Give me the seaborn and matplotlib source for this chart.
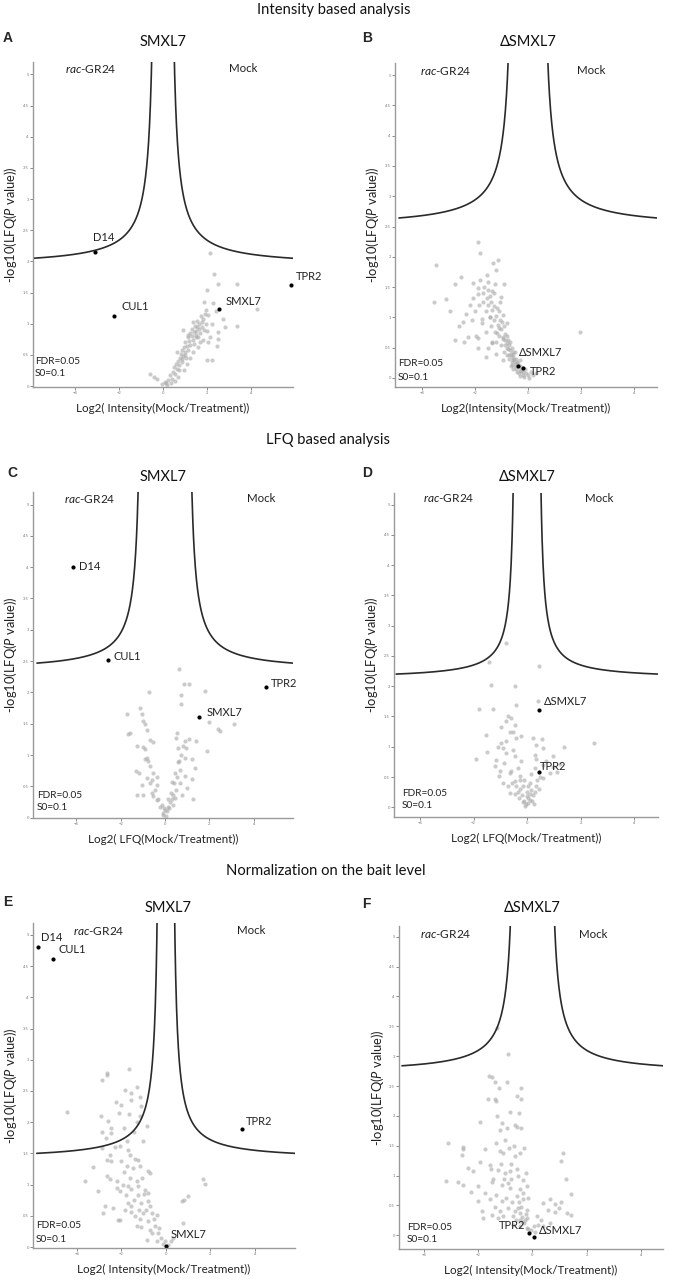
import numpy as np
import matplotlib
matplotlib.use('Agg')
import matplotlib.pyplot as plt
import seaborn as sns
from matplotlib.ticker import FuncFormatter

W, H = 675, 1280

# grey proteins (log2 ratio, -log10 p)
a_grey = [(2.14, 2.14), (2.32, 1.79), (2.50, 1.63), (3.35, 1.63), (1.98, 1.54), (1.86, 1.35), (2.26, 1.33),
          (4.29, 1.24), (1.95, 1.22), (2.06, 1.14), (2.74, 1.07), (3.35, 0.97), (2.80, 0.95), (1.76, 1.03),
          (1.53, 0.95), (0.92, 0.90), (2.48, 0.87), (2.48, 0.75), (2.47, 0.64), (2.14, 0.79), (1.83, 0.74),
          (1.98, 0.41), (2.21, 0.41), (0.85, 0.44), (0.62, 0.55), (-0.59, 0.20), (-0.29, 0.12), (0.09, 0.07),
          (-0.06, 0.03), (-0.40, 0.15), (0.15, 0.05), (0.25, 0.10), (0.30, 0.18), (0.40, 0.12), (0.45, 0.22),
          (0.50, 0.30), (0.55, 0.20), (0.60, 0.35), (0.65, 0.28), (0.70, 0.40), (0.75, 0.33), (0.78, 0.45),
          (0.80, 0.52), (0.85, 0.38), (0.88, 0.58), (0.90, 0.48), (0.95, 0.62), (1.00, 0.55), (1.02, 0.70),
          (1.05, 0.45), (1.10, 0.65), (1.12, 0.78), (1.15, 0.58), (1.20, 0.72), (1.22, 0.85), (1.25, 0.66),
          (1.30, 0.80), (1.32, 0.92), (1.35, 0.74), (1.40, 0.86), (1.42, 0.68), (1.45, 0.96), (1.50, 0.82),
          (1.52, 0.88), (1.55, 1.05), (1.60, 0.78), (1.62, 0.92), (1.65, 1.00), (1.70, 0.85), (1.72, 1.12),
          (1.78, 0.95), (1.80, 1.08), (1.85, 0.90), (1.90, 1.15), (1.95, 1.00), (2.00, 0.88), (2.05, 0.70),
          (1.35, 0.55), (1.10, 0.35), (0.95, 0.25), (0.70, 0.15), (1.60, 0.62), (1.25, 0.45), (2.25, 1.00),
          (2.40, 1.20), (0.35, 0.05), (0.55, 0.08), (1.15, 0.82), (1.48, 0.78), (0.98, 0.50), (1.68, 0.70),
          (1.38, 1.02), (0.72, 0.25), (0.20, 0.02)]

b_grey = [(-1.87, 2.24), (-1.83, 2.07), (-3.48, 1.87), (-1.31, 1.89), (-1.12, 1.95), (-1.21, 1.79), (-2.54, 1.67),
          (-2.75, 1.55), (-2.06, 1.56), (-1.56, 1.70), (-1.50, 1.58), (-0.90, 1.55), (-1.87, 1.48), (-1.68, 1.40),
          (-1.37, 1.43), (-3.09, 1.30), (-3.53, 1.26), (-2.06, 1.32), (-1.00, 1.34), (-1.50, 1.21), (-1.18, 1.15),
          (-2.94, 1.10), (-2.44, 0.93), (-2.59, 0.85), (-1.75, 0.98), (-1.43, 1.01), (-0.93, 1.04), (-0.78, 0.90),
          (-2.25, 0.68), (-2.75, 0.63), (-1.87, 0.66), (-1.87, 0.49), (-1.37, 0.57), (-1.18, 0.74), (-0.93, 0.68),
          (-0.80, 0.57), (1.96, 0.75), (-0.68, 0.46), (-0.55, 0.38), (-0.62, 0.27), (-0.43, 0.27), (-0.50, 0.19),
          (-0.30, 0.13), (-0.06, 0.08), (0.20, 0.05), (-0.30, 0.03), (-1.90, 1.38), (-1.80, 1.62), (-1.70, 1.25),
          (-1.65, 1.50), (-1.60, 1.10), (-1.55, 1.32), (-1.50, 1.45), (-1.45, 1.00), (-1.40, 1.25), (-1.40, 0.85),
          (-1.35, 1.12), (-1.30, 0.95), (-1.30, 1.40), (-1.25, 0.75), (-1.20, 1.02), (-1.20, 0.60), (-1.15, 0.88),
          (-1.10, 1.10), (-1.10, 0.70), (-1.05, 0.95), (-1.00, 0.80), (-1.00, 0.55), (-0.95, 0.65), (-0.90, 0.85),
          (-0.90, 0.42), (-0.85, 0.72), (-0.85, 0.55), (-0.80, 0.38), (-0.75, 0.62), (-0.75, 0.48), (-0.70, 0.32),
          (-0.70, 0.55), (-0.65, 0.40), (-0.60, 0.50), (-0.60, 0.22), (-0.55, 0.30), (-0.50, 0.42), (-0.50, 0.25),
          (-0.45, 0.15), (-0.45, 0.32), (-0.40, 0.10), (-0.35, 0.22), (-0.30, 0.30), (-0.25, 0.12), (-0.20, 0.05),
          (-0.10, 0.15), (0.00, 0.05), (0.10, 0.10), (0.30, 0.08), (-1.60, 0.75), (-1.75, 0.90), (-2.00, 1.10),
          (-2.20, 1.20), (-1.95, 0.70), (-2.10, 0.95), (-1.35, 0.60), (-1.50, 0.50), (-1.20, 0.40), (-2.35, 1.05),
          (-1.85, 1.20), (-1.05, 1.25), (-1.25, 1.55), (-2.40, 0.60), (-1.60, 0.35), (-0.65, 0.20), (-0.55, 0.15),
          (-0.35, 0.08), (-0.15, 0.02), (0.05, 0.00), (-0.40, 0.20), (-0.80, 0.50), (-0.95, 0.30),
          (-0.72, 0.38), (-0.62, 0.35), (-0.52, 0.32), (-0.42, 0.25), (-0.28, 0.18), (-0.18, 0.10), (-0.58, 0.42),
          (-0.88, 0.62), (-0.78, 0.70), (-0.68, 0.60), (-1.08, 0.82), (-0.98, 0.92), (-1.28, 1.18), (-1.45, 1.35)]

c_grey = [(0.65, 2.37), (0.85, 2.13), (1.10, 2.14), (-0.70, 2.00), (0.74, 1.96), (1.80, 2.02), (0.71, 1.81),
          (-1.13, 1.75), (-1.05, 1.66), (-1.70, 1.65), (-0.98, 1.55), (-0.90, 1.49), (-0.83, 1.40), (-1.58, 1.35),
          (1.99, 1.52), (2.40, 1.41), (2.48, 1.38), (3.10, 1.49), (0.55, 1.36), (0.50, 1.28), (1.08, 1.26),
          (0.90, 1.23), (1.40, 1.22), (-0.68, 1.24), (-0.53, 1.21), (-1.28, 1.14), (-0.98, 1.13), (0.60, 1.12),
          (0.96, 1.12), (1.91, 1.06), (0.71, 1.00), (0.90, 0.95), (1.20, 0.93), (-0.90, 0.93), (-0.79, 0.96),
          (-0.68, 0.82), (0.60, 0.89), (0.68, 0.76), (1.35, 0.79), (-1.31, 0.74), (-1.16, 0.71), (-0.54, 0.71),
          (0.45, 0.71), (0.90, 0.67), (-0.83, 0.63), (-0.38, 0.65), (1.20, 0.61), (-1.05, 0.52), (-0.68, 0.55),
          (-0.38, 0.52), (0.30, 0.57), (0.68, 0.55), (1.00, 0.48), (-1.28, 0.36), (-0.98, 0.36), (-0.60, 0.39),
          (-0.53, 0.34), (-0.38, 0.28), (0.38, 0.36), (0.45, 0.31), (0.75, 0.36), (1.25, 0.30), (-0.23, 0.17),
          (0.00, 0.12), (-0.08, 0.04), (0.15, 0.17), (0.22, 0.25), (-1.65, 1.33), (-0.10, 0.08), (0.10, 0.10),
          (-0.15, 0.20), (0.20, 0.15), (0.30, 0.30), (-0.30, 0.30), (0.35, 0.20), (-0.45, 0.45), (0.50, 0.45),
          (0.25, 0.40), (0.40, 0.55), (-0.60, 0.60), (0.55, 0.65), (-0.75, 0.90), (0.65, 0.90), (-0.90, 1.10),
          (0.80, 1.15), (0.05, 0.02), (-0.05, 0.15), (0.15, 0.30)]

d_grey = [(-0.80, 2.71), (-1.42, 2.40), (0.45, 2.34), (-1.34, 2.02), (-0.44, 2.01), (0.41, 1.76), (-1.79, 1.62),
          (-1.27, 1.62), (-0.40, 1.69), (-0.71, 1.51), (-0.59, 1.47), (-0.78, 1.42), (-0.46, 1.36), (-0.96, 1.33),
          (-1.52, 1.20), (-0.53, 1.25), (-0.40, 1.14), (-0.21, 1.17), (0.24, 1.14), (0.56, 1.12), (0.61, 0.98),
          (0.35, 1.03), (1.37, 0.99), (2.51, 1.06), (-0.96, 1.06), (-0.90, 0.98), (-0.78, 0.90), (-1.48, 0.92),
          (-0.46, 0.84), (-0.53, 0.95), (-1.90, 0.79), (-1.15, 0.78), (-1.21, 0.68), (-0.87, 0.73), (-0.21, 0.76),
          (-0.34, 0.65), (0.29, 0.87), (0.35, 0.79), (0.72, 0.76), (0.97, 0.85), (1.22, 0.72), (0.97, 0.67),
          (1.10, 0.59), (0.85, 0.57), (0.60, 0.48), (-1.03, 0.51), (-0.90, 0.40), (-0.65, 0.57), (-0.46, 0.43),
          (-0.28, 0.51), (-0.15, 0.35), (-0.34, 0.26), (-0.02, 0.18), (0.16, 0.29), (0.23, 0.21), (0.04, 0.07),
          (-0.08, 0.02), (0.35, 0.35), (-0.65, 0.24), (0.10, 0.40), (-0.10, 0.10), (0.10, 0.12), (-0.20, 0.20),
          (0.20, 0.10), (-0.30, 0.15), (0.30, 0.25), (-0.40, 0.35), (0.00, 0.25), (-0.55, 0.40), (0.45, 0.30),
          (-0.60, 0.60), (0.50, 0.50), (-0.25, 0.45), (0.15, 0.55), (-1.00, 0.60), (-1.10, 1.00), (-0.80, 1.10),
          (-0.65, 1.25), (0.30, 0.65), (0.60, 0.70), (-0.05, 0.05), (0.05, 0.15), (-0.15, 0.08), (0.25, 0.05),
          (-0.45, 0.22), (-0.25, 0.30), (0.12, 0.22), (0.38, 0.45), (-0.70, 0.35), (-0.12, 0.45), (0.02, 0.35)]

e_grey = [(-2.67, 2.79), (-2.63, 2.76), (-1.65, 2.85), (-2.88, 2.67), (-1.85, 2.52), (-1.32, 2.56), (-1.59, 2.47),
          (-2.25, 2.33), (-1.58, 2.35), (-1.17, 2.40), (-2.00, 2.28), (-1.14, 2.26), (-2.10, 2.15), (-1.65, 2.13),
          (-2.93, 2.10), (-1.17, 2.10), (-0.87, 1.94), (-2.60, 2.02), (-2.45, 1.91), (-2.88, 1.84), (-2.45, 1.82),
          (-1.44, 1.84), (-2.70, 1.75), (-1.74, 1.69), (-1.02, 1.69), (-2.07, 1.62), (-1.70, 1.56), (-1.62, 1.48),
          (-2.88, 1.59), (-2.50, 1.48), (-2.67, 1.40), (-2.45, 1.37), (-2.00, 1.37), (-1.77, 1.30), (-1.40, 1.41),
          (-1.25, 1.39), (-1.50, 1.27), (-1.17, 1.29), (-3.30, 1.28), (-0.80, 1.21), (-0.72, 1.18), (-2.67, 1.13),
          (-2.52, 1.09), (-1.62, 1.11), (-1.09, 1.11), (-3.65, 1.05), (-1.92, 1.00), (-2.22, 0.94), (-1.70, 0.97),
          (-1.55, 0.93), (-1.25, 0.97), (-0.95, 0.92), (-0.80, 0.87), (-2.07, 0.89), (-1.80, 0.84), (-1.25, 0.84),
          (1.68, 1.09), (1.76, 1.01), (1.00, 0.81), (0.82, 0.75), (-1.71, 0.71), (-1.56, 0.65), (-1.10, 0.71),
          (-0.80, 0.73), (-0.72, 0.65), (-2.85, 0.54), (-2.37, 0.62), (-1.55, 0.56), (-1.40, 0.49), (-1.02, 0.54),
          (-0.64, 0.54), (-0.42, 0.52), (-2.07, 0.44), (-1.17, 0.45), (-0.80, 0.41), (-1.32, 0.34), (-1.10, 0.32),
          (-0.72, 0.28), (-0.50, 0.34), (0.78, 0.39), (-0.35, 0.22), (-0.64, 0.22), (-0.84, 0.12), (-0.20, 0.14),
          (-0.39, 0.09), (-0.04, 0.09), (0.25, 0.09), (0.33, 0.14), (-4.47, 2.16), (-3.05, 0.89), (-2.75, 0.65),
          (-2.15, 0.44), (0.71, 0.73), (-1.90, 1.20), (-2.20, 1.05), (-1.30, 1.05), (-1.45, 0.75), (-1.00, 0.85),
          (-0.90, 0.60), (-0.55, 0.45), (-0.30, 0.30), (-0.15, 0.05), (0.10, 0.03), (-1.85, 0.60), (-1.20, 0.60),
          (-2.30, 1.60), (-1.90, 1.90), (-1.30, 2.00)]

f_grey = [(-1.31, 3.47), (-0.92, 3.03), (-1.60, 2.67), (-1.51, 2.65), (-1.39, 2.57), (-0.93, 2.56), (-1.24, 2.46),
          (-0.43, 2.46), (-0.56, 2.34), (-0.44, 2.29), (-1.63, 2.28), (-1.39, 2.28), (-1.35, 2.25), (-0.84, 2.06),
          (-1.30, 1.99), (-0.50, 2.04), (-1.94, 1.89), (-1.13, 1.88), (-1.21, 1.77), (-0.93, 1.79), (-0.65, 1.85),
          (-0.59, 1.82), (-0.44, 1.79), (-3.11, 1.55), (-2.58, 1.48), (-2.62, 1.35), (-1.76, 1.45), (-1.33, 1.55),
          (-1.21, 1.41), (-1.08, 1.37), (-0.86, 1.46), (-0.70, 1.49), (-0.65, 1.32), (-0.47, 1.38), (-0.30, 1.46),
          (1.13, 1.37), (1.07, 1.24), (-2.37, 1.13), (-1.94, 1.22), (-1.57, 1.18), (-1.55, 1.11), (-1.27, 1.09),
          (-1.02, 1.04), (-0.84, 1.07), (-0.90, 0.88), (-0.59, 1.11), (-0.53, 0.99), (-0.34, 0.93), (-0.23, 1.04),
          (-2.18, 1.07), (-3.20, 0.91), (-2.75, 0.90), (-2.57, 0.85), (-2.00, 0.82), (-1.51, 0.89), (-1.13, 0.85),
          (-0.84, 0.79), (-0.47, 0.77), (-0.22, 0.82), (1.23, 0.94), (-2.26, 0.72), (-1.77, 0.71), (-2.00, 0.57),
          (-1.57, 0.60), (-1.33, 0.68), (-1.13, 0.57), (-0.96, 0.63), (-0.59, 0.65), (-0.34, 0.60), (-0.16, 0.62),
          (1.44, 0.69), (-1.85, 0.41), (-1.39, 0.48), (-1.21, 0.40), (-0.90, 0.46), (-0.65, 0.40), (-0.47, 0.37),
          (-0.22, 0.43), (0.40, 0.54), (0.64, 0.60), (0.82, 0.53), (1.07, 0.55), (0.58, 0.43), (0.82, 0.39),
          (0.98, 0.46), (1.26, 0.37), (1.44, 0.34), (-1.82, 0.29), (-1.51, 0.34), (-1.27, 0.29), (-1.08, 0.32),
          (-0.71, 0.32), (-0.47, 0.26), (-0.22, 0.29), (0.15, 0.32), (0.33, 0.26), (-0.72, 0.18), (-0.47, 0.15),
          (-0.22, 0.12), (-0.04, 0.09), (0.21, 0.18), (0.39, 0.15), (0.64, 0.20), (-2.58, 1.45), (-0.30, 0.20),
          (-0.15, 0.10), (0.10, 0.05), (-0.40, 0.30), (-0.25, 0.35), (-0.60, 0.25), (0.05, 0.15), (-0.80, 1.20),
          (-1.00, 1.60), (-0.75, 0.55), (-0.50, 0.55), (-1.05, 0.95), (-0.35, 0.70), (-1.45, 0.95),
          (-0.38, 0.22), (-0.28, 0.26), (-0.55, 0.45), (-0.42, 0.48), (-0.78, 0.95), (-1.18, 1.20)]

# labelled proteins
a_names = ['D14', 'CUL1', 'SMXL7', 'TPR2']
a_x = [-3.09, -2.21, 2.56, 5.80]
a_y = [2.15, 1.12, 1.24, 1.62]
b_names = ['ΔSMXL7', 'TPR2']
b_x = [-0.39, -0.20]
b_y = [0.20, 0.16]
c_names = ['D14', 'CUL1', 'TPR2', 'SMXL7']
c_x = [-4.13, -2.58, 4.54, 1.52]
c_y = [4.00, 2.51, 2.08, 1.60]
d_names = ['ΔSMXL7', 'TPR2']
d_x = [0.43, 0.43]
d_y = [1.61, 0.58]
e_names = ['D14', 'CUL1', 'TPR2', 'SMXL7']
e_x = [-5.75, -5.08, 3.44, 0.00]
e_y = [4.81, 4.62, 1.89, 0.01]
f_names = ['TPR2', 'ΔSMXL7']
f_x = [-0.12, 0.04]
f_y = [0.04, -0.03]

# FDR=0.05 / S0=0.1 cut-off curves: y = a + b / (|x| - x0)
curve_x0 = [0.30, 0.50, 1.00, 0.40, 0.25, 0.60]
curve_a = [1.924, 2.485, 2.34, 2.117, 1.40, 2.71]
curve_b = [0.708, 0.682, 0.61, 0.372, 0.558, 0.543]

xlabels = ['Log2( Intensity(Mock/Treatment))', 'Log2(Intensity(Mock/Treatment))',
           'Log2( LFQ(Mock/Treatment))', 'Log2( LFQ(Mock/Treatment))',
           'Log2( Intensity(Mock/Treatment))', 'Log2( Intensity(Mock/Treatment))']
titles = ['SMXL7', 'ΔSMXL7'] * 3
letters = ['A', 'B', 'C', 'D', 'E', 'F']
sections = ['Intensity based analysis', 'LFQ based analysis', 'Normalization on the bait level']

# layout (pixels)
boxes = [(33, 62, 293, 387), (395, 63, 657, 387), (33, 492, 293, 818),
         (394, 493, 658, 817), (33, 923, 295, 1248), (399, 926, 663, 1249)]
xlims = [(-5.91, 5.91), (-5.02, 4.87), (-5.95, 5.77), (-4.97, 4.89), (-5.98, 5.81), (-4.93, 4.82)]
ylims = [(-0.016, 5.2), (-0.15, 5.2), (-0.005, 5.2), (-0.16, 5.19), (-0.016, 5.19), (-0.23, 5.18)]
title_pos = [(163, 42), (528, 42), (163, 477), (527, 477), (168, 908), (532, 908)]
letter_pos = [(3, 38), (362, 38), (7, 473), (362, 473), (3, 902), (362, 904)]
rac_pos = [(91, 69), (446, 71), (90, 499), (449, 498), (99, 931), (446, 934)]
mock_pos = [(243, 69), (591, 71), (261, 499), (599, 498), (251, 931), (593, 934)]
fdr_pos = [(35, 361), (398, 364), (37, 795), (402, 793), (36, 1226), (407, 1227)]
section_pos = [(334, 10), (328, 440), (326, 871)]
label_offsets = [
    [(-2, 15, 'left'), (7, 10, 'left'), (6, 7, 'left'), (5, 9, 'left')],
    [(1, 13, 'left'), (7, -3, 'left')],
    [(6, 1, 'left'), (6, 4, 'left'), (5, 4, 'left'), (8, 5, 'left')],
    [(5, 8, 'left'), (1, 6, 'left')],
    [(3, 9, 'left'), (5, 9, 'left'), (4, 8, 'left'), (5, 12, 'left')],
    [(-4, 7, 'right'), (5, 7, 'left')],
]

greys = [a_grey, b_grey, c_grey, d_grey, e_grey, f_grey]
hits = [(a_names, a_x, a_y), (b_names, b_x, b_y), (c_names, c_x, c_y),
        (d_names, d_x, d_y), (e_names, e_x, e_y), (f_names, f_x, f_y)]

sns.set_style('white')
plt.rcParams['font.family'] = ['Lato', 'DejaVu Sans']
plt.rcParams['mathtext.fontset'] = 'custom'
plt.rcParams['mathtext.rm'] = 'Lato'
plt.rcParams['mathtext.it'] = 'Lato:italic'

fig = plt.figure(figsize=(W / 100, H / 100), dpi=100)


def px_text(x, y, s, **kw):
    kw.setdefault('va', 'center')
    fig.text(x / W, 1 - y / H, s, **kw)


for i in range(6):
    l, t, r, b = boxes[i]
    ax = fig.add_axes([l / W, 1 - b / H, (r - l) / W, (b - t) / H])
    ax.set_xlim(*xlims[i])
    ax.set_ylim(*ylims[i])

    gx = [p[0] for p in greys[i]]
    gy = [p[1] for p in greys[i]]
    sns.scatterplot(x=gx, y=gy, ax=ax, color='#a9a9a9', s=9, alpha=0.6, linewidth=0)

    x0, ca, cb = curve_x0[i], curve_a[i], curve_b[i]
    right = np.linspace(x0 + 0.05, xlims[i][1], 400)
    yr = ca + cb / (right - x0)
    ax.plot(right, yr, color='#2a2a2a', lw=1.2)
    ax.plot(-right, yr, color='#2a2a2a', lw=1.2)

    names, hx, hy = hits[i]
    sns.scatterplot(x=hx, y=hy, ax=ax, color='black', s=9, linewidth=0)
    for j, name in enumerate(names):
        dx, dy, ha = label_offsets[i][j]
        ax.annotate(name, (hx[j], hy[j]), xytext=(dx * 0.72, dy * 0.72), textcoords='offset points',
                    ha=ha, va='center', fontsize=8, color='#222222')

    sns.despine(ax=ax)
    for side in ['left', 'bottom']:
        ax.spines[side].set_color('#9a9a9a')
        ax.spines[side].set_linewidth(1.0)
    ax.set_xticks([-4, -2, 0, 2, 4])
    ax.set_yticks(np.arange(0, 5.01, 0.5))
    ax.yaxis.set_major_formatter(FuncFormatter(lambda v, p: f'{v:g}'))
    ax.tick_params(labelsize=3, colors='#777777', length=2, width=0.6, pad=1, left=True, bottom=True)
    ax.grid(False)

    ax.text(0.5, -21 / (b - t), xlabels[i], transform=ax.transAxes, ha='center', va='center',
            fontsize=8.4, color='#222222')
    ax.text(-22 / (r - l), 0.5, r'-log10(LFQ($\mathit{P}$ value))', transform=ax.transAxes,
            rotation=90, ha='center', va='center', fontsize=9.3, color='#222222')

    px_text(*title_pos[i], titles[i], ha='center', fontsize=10.5, color='#111111')
    px_text(*letter_pos[i], letters[i], ha='left', fontsize=10, fontweight='bold',
            family=['Liberation Sans', 'DejaVu Sans'])
    px_text(*rac_pos[i], r'$\mathit{rac}$-GR24', ha='center', fontsize=8.6, color='#222222')
    px_text(*mock_pos[i], 'Mock', ha='center', fontsize=8.3, color='#222222')
    fx, fy = fdr_pos[i]
    px_text(fx, fy, 'FDR=0.05', ha='left', fontsize=7.3, color='#222222')
    px_text(fx, fy + 13, 'S0=0.1', ha='left', fontsize=7.3, color='#222222')

for k in range(3):
    px_text(*section_pos[k], sections[k], ha='center', fontsize=10.6, color='#111111')

fig.savefig('out.png', dpi=100)
